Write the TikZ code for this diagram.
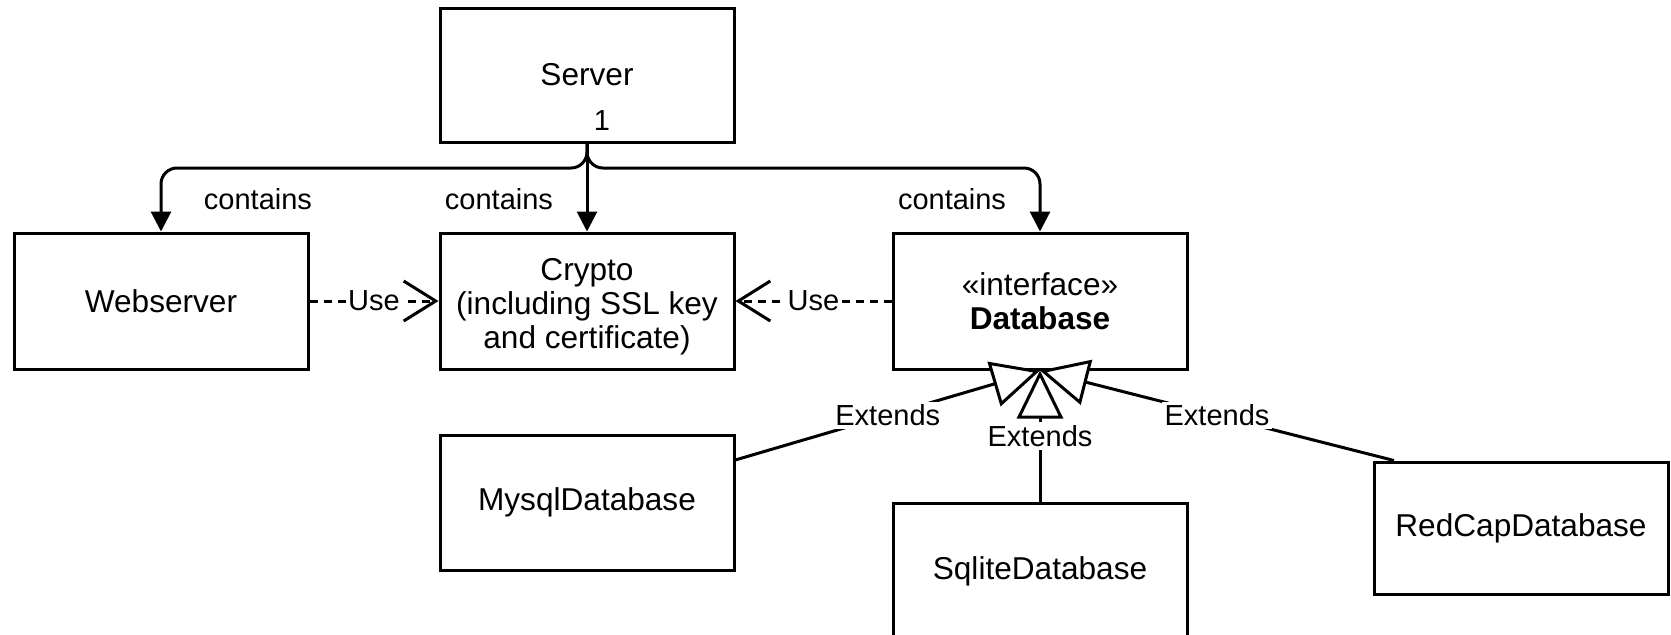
\documentclass[tikz,border=0pt]{standalone}
\usepackage{fontspec}
\setmainfont{Liberation Sans}
\usetikzlibrary{arrows.meta}
\begin{document}
\begin{tikzpicture}[x=0.5pt,y=-0.5pt,
  box/.style={draw, line width=1.5pt, minimum width=147pt, minimum height=68pt, align=center,
    font=\fontsize{15.8pt}{17pt}\selectfont, inner sep=0pt},
  lbl/.style={font=\fontsize{14.5pt}{16pt}\selectfont, fill=white, inner sep=1.5pt},
  conn/.style={line width=1.5pt},
  contains/.style={conn, -{Triangle[length=10pt,width=10pt]}, rounded corners=8pt},
  usearrow/.style={conn, dash pattern=on 4pt off 3pt, -{Straight Barb[length=16pt,width=20pt]}},
  extends/.style={conn, -{Triangle[length=24pt,width=23pt,fill=white]}}
]
\useasboundingbox (0,0) rectangle (1671,634);
\clip (0,0) rectangle (1671,634);

\node[box, minimum height=67pt] (server) at (587,75) {Server};
\node[box] (web) at (161,301) {Webserver};
\node[box] (crypto) at (587,301) {\rule{0pt}{17pt}Crypto\\(including SSL key\\and certificate)};
\node[box] (db) at (1040,301) {«interface»\\\textbf{Database}};
\node[box, minimum height=67.5pt] (mysql) at (587,502.5) {MysqlDatabase};
\node[box] (sqlite) at (1040,571) {SqliteDatabase};
\node[box, minimum height=66pt] (redcap) at (1521,528) {RedCapDatabase};

\node[lbl, fill=none] (one) at (602,121) {1};

\coordinate (j) at (587,168);
\draw[contains] (server.south) -- (j) -| (web.north);
\draw[contains] (server.south) -- (j) -| (db.north);
\draw[contains] (server.south) -- (crypto.north);

\node[lbl, fill=none] (c1) at (258,199) {contains};
\node[lbl, fill=none] (c2) at (499,199) {contains};
\node[lbl, fill=none] (c3) at (952,199) {contains};

\draw[usearrow] (web.east) -- node[lbl, inner sep=1pt]{Use} (crypto.west);
\draw[usearrow] (db.west) -- node[lbl, inner sep=1pt]{Use} (crypto.east);

\draw[extends] (mysql.16) -- node[lbl]{Extends} (db.south);
\draw[extends] (redcap.152) -- node[lbl]{Extends} (db.south);
\draw[extends] (sqlite.north) -- node[lbl]{Extends} (db.south);
\end{tikzpicture}
\end{document}
